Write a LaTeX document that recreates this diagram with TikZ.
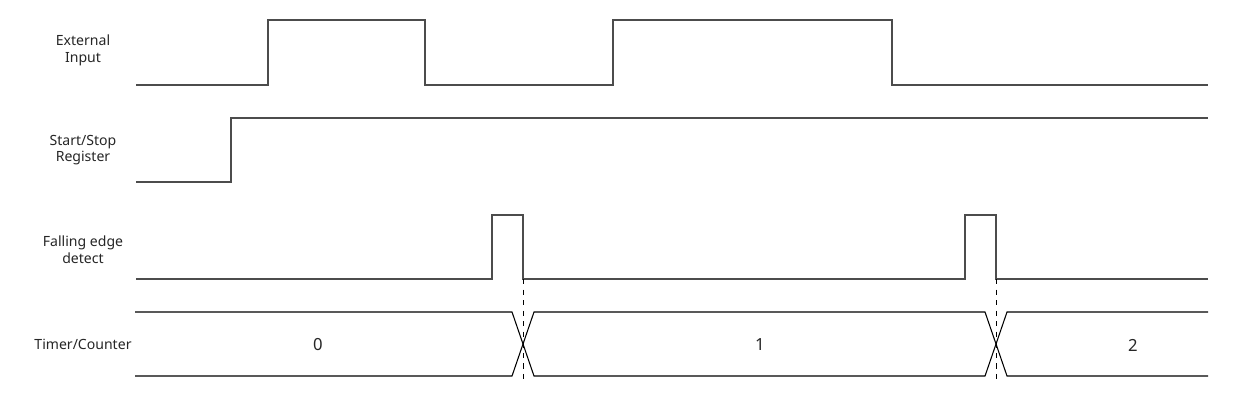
\documentclass[tikz,border=0pt]{standalone}
\usepackage{fontspec}
\setmainfont{Noto Sans}

\begin{document}
\begin{tikzpicture}[x=0.02cm, y=-0.02cm, font=\fontsize{8}{9.5}\selectfont,
  signal/.style={line width=0.6pt, black!70},
  bus/.style={line width=0.6pt, black},
  lbl/.style={align=center, text=black!85}]
  \useasboundingbox (0,0) rectangle (1246,400);
  % 名前
  \node[lbl] (ext) at (83,50) {External\\Input};
  \node[lbl] (ss) at (83,150) {Start/Stop\\Register};
  \node[lbl] (fed) at (83,250) {Falling edge\\detect};
  \node[lbl] (tc) at (83,344) {Timer/Counter};
  % External Input
  \draw[signal] (136,85) -- (268,85) -- (268,20) -- (425,20) -- (425,85)
    -- (613,85) -- (613,20) -- (892,20) -- (892,85) -- (1208,85);
  % Start/Stop Register
  \draw[signal] (136,182) -- (231,182) -- (231,118) -- (1208,118);
  % Falling edge detect
  \draw[signal] (136,279) -- (492,279) -- (492,215) -- (523,215) -- (523,279)
    -- (965,279) -- (965,215) -- (996,215) -- (996,279) -- (1208,279);
  % Timer/Counter
  \draw[bus] (135,312) -- (512,312) -- (534,376) -- (985,376) -- (1007,312) -- (1208,312);
  \draw[bus] (135,376) -- (512,376) -- (534,312) -- (985,312) -- (1007,376) -- (1208,376);
  \foreach \v/\x in {0/318,1/760,2/1133} {
    \node[text=black!85, font=\fontsize{9.5}{11}\selectfont] (val\v) at (\x,345) {\v};
  }
  % 立ち下がり
  \foreach \x in {523,996} {
    \draw[dashed, line width=0.5pt] (\x,279) -- (\x,383);
  }
\end{tikzpicture}
\end{document}
